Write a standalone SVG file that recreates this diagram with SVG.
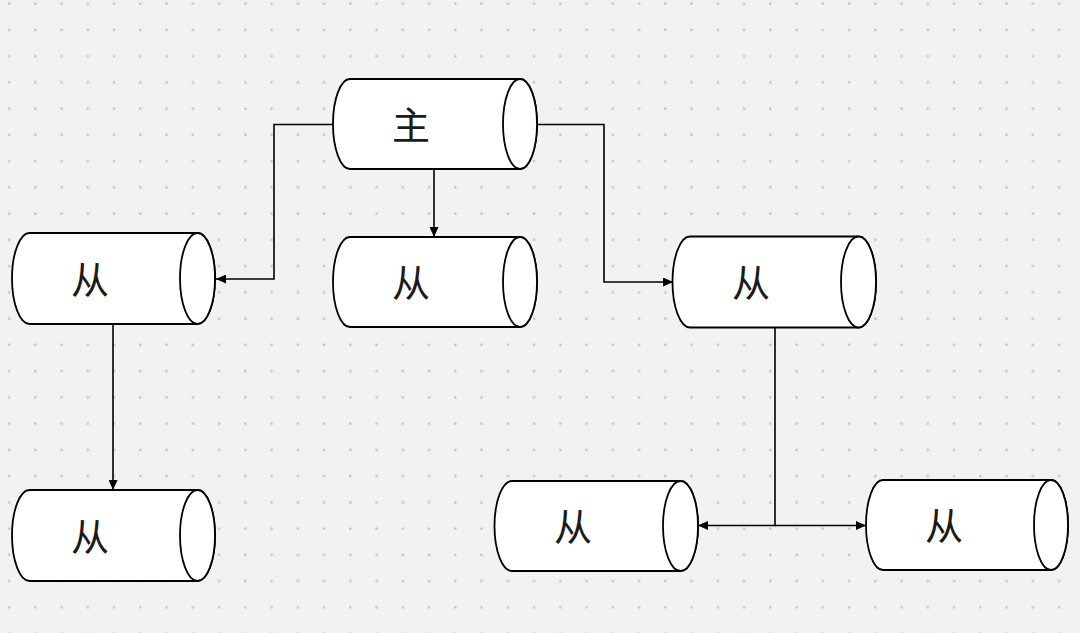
<svg xmlns="http://www.w3.org/2000/svg" width="1080" height="633" viewBox="0 0 1080 633">
  <defs>
    <pattern id="dots" x="0" y="0" width="26.25" height="26.25" patternUnits="userSpaceOnUse">
      <rect x="8" y="2.5" width="2.2" height="2.2" fill="#bdbdc0"/>
    </pattern>
    <marker id="arr" markerUnits="userSpaceOnUse" markerWidth="10" markerHeight="9" refX="10" refY="4.5" orient="auto">
      <path d="M0,0 L10,4.5 L0,9 Z" fill="#000"/>
    </marker>
    <style>
      .body { fill: #fff; stroke: #000; stroke-width: 1.8; }
      .cap { fill: #fff; stroke: #000; stroke-width: 1.8; }
      .lbl { font-family: "Noto Sans CJK SC", "Noto Sans", sans-serif; font-size: 38px; fill: #1a1a1a; text-anchor: middle; }
      .conn { fill: none; stroke: #000; stroke-width: 1.6; }
    </style>
  </defs>
  <rect width="1080" height="633" fill="#f2f2f4"/>
  <rect width="1080" height="633" fill="url(#dots)"/>

  <g id="connectors">
    <path class="conn" d="M333,124.5 H274 V279 H216" marker-end="url(#arr)"/>
    <path class="conn" d="M434,169 V237" marker-end="url(#arr)"/>
    <path class="conn" d="M537,124.5 H604 V282 H673" marker-end="url(#arr)"/>
    <path class="conn" d="M113,324 V490" marker-end="url(#arr)"/>
    <path class="conn" d="M775,327 V525.5 H698" marker-end="url(#arr)"/>
    <path class="conn" d="M775,525.5 H866" marker-end="url(#arr)"/>
  </g>

  <g id="master">
    <path class="body" d="M350,79 H520 A17,45 0 0 1 520,169 H350 A17,45 0 0 1 350,79 Z"/>
    <ellipse class="cap" cx="520" cy="124" rx="17" ry="45"/>
    <text class="lbl" x="411" y="139">主</text>
  </g>

  <g id="slave-left">
    <path class="body" d="M29.5,233 H197.5 A17.5,45.5 0 0 1 197.5,324 H29.5 A17.5,45.5 0 0 1 29.5,233 Z"/>
    <ellipse class="cap" cx="197.5" cy="278.5" rx="17.5" ry="45.5"/>
    <text class="lbl" x="90" y="294">从</text>
  </g>

  <g id="slave-middle">
    <path class="body" d="M350,237 H520 A17,45 0 0 1 520,327 H350 A17,45 0 0 1 350,237 Z"/>
    <ellipse class="cap" cx="520" cy="282" rx="17" ry="45"/>
    <text class="lbl" x="411" y="297">从</text>
  </g>

  <g id="slave-right">
    <path class="body" d="M690,236.5 H858.5 A17.5,45.5 0 0 1 858.5,327.5 H690 A17.5,45.5 0 0 1 690,236.5 Z"/>
    <ellipse class="cap" cx="858.5" cy="282" rx="17.5" ry="45.5"/>
    <text class="lbl" x="751" y="297">从</text>
  </g>

  <g id="slave-bottom-left">
    <path class="body" d="M29.5,490 H197.5 A17.5,45.5 0 0 1 197.5,581 H29.5 A17.5,45.5 0 0 1 29.5,490 Z"/>
    <ellipse class="cap" cx="197.5" cy="535.5" rx="17.5" ry="45.5"/>
    <text class="lbl" x="90" y="551">从</text>
  </g>

  <g id="slave-bottom-middle">
    <path class="body" d="M512,481 H680.5 A17.5,45 0 0 1 680.5,571 H512 A17.5,45 0 0 1 512,481 Z"/>
    <ellipse class="cap" cx="680.5" cy="526" rx="17.5" ry="45"/>
    <text class="lbl" x="573" y="541">从</text>
  </g>

  <g id="slave-bottom-right">
    <path class="body" d="M883,480 H1051 A17,45 0 0 1 1051,570 H883 A17,45 0 0 1 883,480 Z"/>
    <ellipse class="cap" cx="1051" cy="525" rx="17" ry="45"/>
    <text class="lbl" x="944" y="540">从</text>
  </g>
</svg>
